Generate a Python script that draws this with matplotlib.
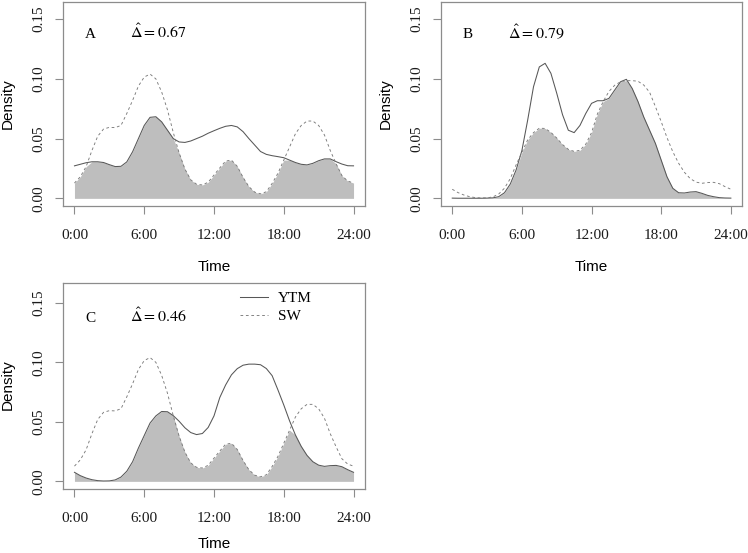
import numpy as np
import matplotlib
matplotlib.use("Agg")
import matplotlib.pyplot as plt

# ---------------- data (hourly grid, 0.5 h step) ----------------
hours = np.arange(0, 24.01, 0.5)

sw_density = [0.0128, 0.018, 0.0265, 0.040, 0.052, 0.058, 0.0594, 0.0592, 0.061, 0.071,
              0.082, 0.094, 0.1015, 0.104, 0.100, 0.089, 0.074, 0.055, 0.038, 0.0245,
              0.0155, 0.0118, 0.0112, 0.0135, 0.0195, 0.0255, 0.0312, 0.032, 0.0268, 0.0175,
              0.0098, 0.0052, 0.0038, 0.0055, 0.0125, 0.021, 0.032, 0.043, 0.054, 0.061,
              0.0647, 0.0647, 0.061, 0.053, 0.040, 0.029, 0.019, 0.0145, 0.0128]

ytm_density = [0.0076, 0.0048, 0.0028, 0.0014, 0.0006, 0.0003, 0.0004, 0.0012, 0.0036, 0.0085,
               0.0165, 0.028, 0.0385, 0.049, 0.055, 0.0587, 0.0585, 0.0552, 0.0505, 0.045,
               0.041, 0.0393, 0.0402, 0.0453, 0.055, 0.0705, 0.081, 0.0895, 0.0947, 0.0976,
               0.0985, 0.0985, 0.098, 0.0948, 0.0888, 0.0768, 0.0642, 0.0508, 0.039, 0.0294,
               0.0218, 0.0165, 0.0136, 0.0126, 0.0132, 0.0134, 0.0123, 0.0098, 0.0076]

panel_a_solid = [0.0272, 0.0285, 0.0298, 0.0306, 0.0306, 0.030, 0.0282, 0.0266, 0.0268, 0.0305,
                 0.039, 0.050, 0.061, 0.0678, 0.0683, 0.064, 0.057, 0.050, 0.0472, 0.0468,
                 0.048, 0.050, 0.052, 0.0545, 0.0566, 0.0586, 0.0603, 0.061, 0.0598, 0.0558,
                 0.050, 0.0446, 0.0392, 0.0368, 0.0357, 0.0349, 0.034, 0.032, 0.030, 0.0285,
                 0.028, 0.0293, 0.0315, 0.033, 0.033, 0.0307, 0.0287, 0.0273, 0.0272]

panel_b_solid = [0.0002, 0.0001, 0.0001, 0.0001, 0.0001, 0.0001, 0.0002, 0.0004, 0.0014, 0.0047,
                 0.012, 0.0237, 0.040, 0.0656, 0.0934, 0.110, 0.113, 0.1046, 0.088, 0.070,
                 0.057, 0.055, 0.061, 0.071, 0.0795, 0.0817, 0.0817, 0.0837, 0.0907, 0.0976,
                 0.0996, 0.092, 0.081, 0.068, 0.057, 0.046, 0.032, 0.018, 0.0084, 0.0047,
                 0.0045, 0.0053, 0.0056, 0.0042, 0.0025, 0.0014, 0.0006, 0.0003, 0.0002]

panel_letters = ["A", "B", "C"]
overlap_values = [0.67, 0.79, 0.46]
legend_labels = ["YTM", "SW"]
x_ticks = [0, 6, 12, 18, 24]
x_tick_labels = ["0:00", "6:00", "12:00", "18:00", "24:00"]
y_ticks = [0.0, 0.05, 0.10, 0.15]
y_tick_labels = ["0.00", "0.05", "0.10", "0.15"]

panels = [
    (panel_a_solid, sw_density),
    (panel_b_solid, ytm_density),
    (ytm_density, sw_density),
]

# ---------------- styling ----------------
plt.rcParams["mathtext.fontset"] = "stix"
SERIF = "Liberation Serif"
SANS = "Liberation Sans"
W, H = 748, 553
fig = plt.figure(figsize=(W / 100, H / 100), dpi=100)

# axes boxes in pixel coordinates (left, top, right, bottom)
boxes = [
    (63.3, 2.0, 364.7, 205.9),
    (441.1, 2.0, 742.0, 205.9),
    (63.3, 282.7, 364.7, 489.0),
]
ylims = [(0, 0.158), (0, 0.158), (0, 0.1605)]
time_label_y = [-0.317, -0.317, -0.284]

fill_col = "#bebebe"
solid_col = "#575757"
dash_col = "#7a7a7a"
box_col = "#8c8c8c"

for i, (box, (d_solid, d_dash)) in enumerate(zip(boxes, panels)):
    l, t, r, b = box
    ax = fig.add_axes([l / W, 1 - b / H, (r - l) / W, (b - t) / H])
    d1 = np.array(d_solid)
    d2 = np.array(d_dash)
    ax.fill_between(hours, 0, np.minimum(d1, d2), color=fill_col, lw=0, zorder=1)
    ax.plot(hours, d1, color=solid_col, lw=0.75, zorder=3, label=legend_labels[0])
    ax.plot(hours, d2, color=dash_col, lw=0.65, ls=(0, (3, 3)), zorder=3,
            label=legend_labels[1])

    y0, y1 = ylims[i]
    ext = 0.04 * (y1 - y0)
    ax.set_ylim(y0 - ext, y1 + ext)
    ax.set_xlim(-0.96, 24.96)

    ax.set_xticks(x_ticks)
    ax.set_xticklabels(x_tick_labels, fontfamily=SERIF, fontsize=11, color="#1a1a1a")
    ax.set_yticks(y_ticks)
    ax.set_yticklabels(y_tick_labels, fontfamily=SERIF, fontsize=11, color="#1a1a1a",
                       rotation=90, va="center")
    ax.tick_params(axis="x", length=5.8, width=0.8, color=box_col, pad=11)
    ax.tick_params(axis="y", length=5.8, width=0.8, color=box_col, pad=7)
    for s in ax.spines.values():
        s.set_color(box_col)
        s.set_linewidth(0.9)

    ax.set_xlabel("Time", fontfamily=SANS, fontsize=11, va="baseline")
    ax.xaxis.set_label_coords(0.5, time_label_y[i])
    ax.set_ylabel("Density", fontfamily=SANS, fontsize=11, va="center")
    ax.yaxis.set_label_coords(-0.1835, 0.504)

    ax.text(0.9, 0.134, panel_letters[i], fontfamily=SERIF, fontsize=11,
            ha="left", va="baseline")
    ax.text(4.8, 0.134, r"$\hat{\Delta} = %.2f$" % overlap_values[i], fontsize=11.5,
            ha="left", va="baseline")

    if i == 2:
        ax.legend(loc="upper left", bbox_to_anchor=(0.586, 0.958), frameon=False,
                  borderpad=0, borderaxespad=0, handlelength=1.85, handletextpad=0.65,
                  labelspacing=0.28, prop={"family": SERIF, "size": 11})

fig.savefig("out.png", dpi=100)
